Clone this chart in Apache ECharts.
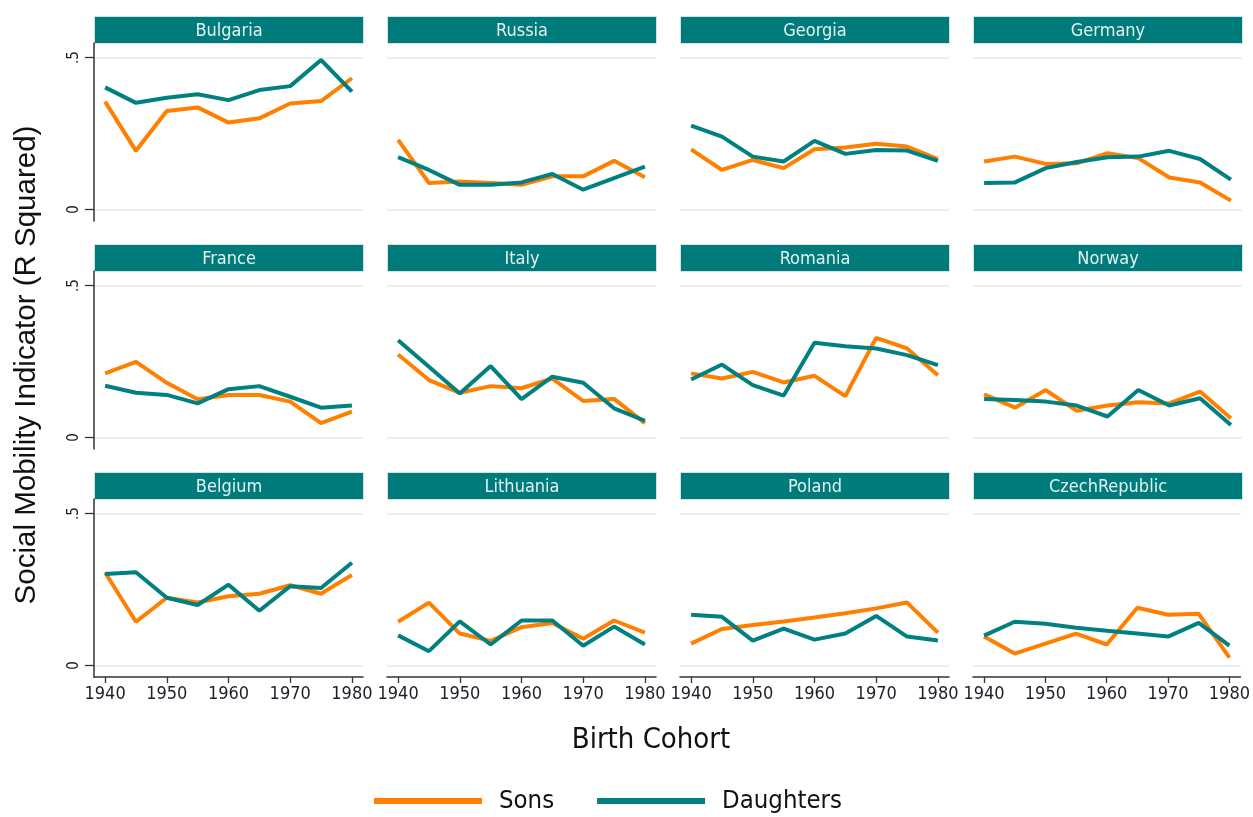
<!DOCTYPE html>
<html>
<head>
<meta charset="utf-8">
<script src="https://cdn.jsdelivr.net/npm/echarts@6/dist/echarts.min.js"></script>
<style>
html,body{margin:0;padding:0;background:#fff;}
#chart{width:1253px;height:817px;}
</style>
</head>
<body>
<div id="chart"></div>
<script>
// ---- data ----
const years = [1940, 1945, 1950, 1955, 1960, 1965, 1970, 1975, 1980];
const xTicks = [1940, 1950, 1960, 1970, 1980];
const yTicks = [0, 0.5];
const yTickLabels = ['0', '.5'];
const countries = ['Bulgaria', 'Russia', 'Georgia', 'Germany', 'France', 'Italy', 'Romania', 'Norway', 'Belgium', 'Lithuania', 'Poland', 'CzechRepublic'];

const bulgariaSons      = [0.355, 0.193, 0.324, 0.336, 0.286, 0.300, 0.349, 0.357, 0.432];
const bulgariaDaughters = [0.402, 0.351, 0.368, 0.379, 0.360, 0.393, 0.406, 0.492, 0.388];
const russiaSons        = [0.229, 0.087, 0.092, 0.087, 0.081, 0.109, 0.109, 0.160, 0.106];
const russiaDaughters   = [0.172, 0.130, 0.081, 0.081, 0.089, 0.117, 0.065, 0.103, 0.141];
const georgiaSons       = [0.198, 0.130, 0.163, 0.136, 0.198, 0.204, 0.216, 0.207, 0.166];
const georgiaDaughters  = [0.276, 0.240, 0.174, 0.158, 0.226, 0.183, 0.196, 0.194, 0.160];
const germanySons       = [0.158, 0.174, 0.150, 0.152, 0.185, 0.169, 0.105, 0.089, 0.029];
const germanyDaughters  = [0.087, 0.089, 0.136, 0.156, 0.172, 0.174, 0.193, 0.166, 0.098];
const franceSons        = [0.211, 0.249, 0.180, 0.126, 0.140, 0.140, 0.118, 0.047, 0.085];
const franceDaughters   = [0.170, 0.147, 0.140, 0.112, 0.159, 0.169, 0.134, 0.098, 0.105];
const italySons         = [0.273, 0.189, 0.147, 0.169, 0.162, 0.194, 0.120, 0.127, 0.047];
const italyDaughters    = [0.320, 0.233, 0.145, 0.235, 0.126, 0.200, 0.180, 0.096, 0.055];
const romaniaSons       = [0.211, 0.194, 0.216, 0.181, 0.203, 0.136, 0.328, 0.293, 0.205];
const romaniaDaughters  = [0.191, 0.240, 0.172, 0.138, 0.312, 0.300, 0.293, 0.271, 0.238];
const norwaySons        = [0.142, 0.098, 0.156, 0.088, 0.105, 0.116, 0.112, 0.151, 0.063];
const norwayDaughters   = [0.127, 0.123, 0.118, 0.105, 0.069, 0.156, 0.105, 0.129, 0.041];
const belgiumSons       = [0.306, 0.144, 0.223, 0.207, 0.228, 0.236, 0.264, 0.236, 0.298];
const belgiumDaughters  = [0.301, 0.307, 0.223, 0.199, 0.266, 0.180, 0.261, 0.255, 0.338];
const lithuaniaSons     = [0.144, 0.207, 0.105, 0.081, 0.126, 0.140, 0.088, 0.148, 0.108];
const lithuaniaDaughters= [0.099, 0.047, 0.145, 0.069, 0.148, 0.148, 0.065, 0.128, 0.069];
const polandSons        = [0.072, 0.120, 0.133, 0.145, 0.158, 0.172, 0.188, 0.207, 0.108];
const polandDaughters   = [0.167, 0.160, 0.082, 0.121, 0.085, 0.105, 0.163, 0.095, 0.082];
const czechSons         = [0.095, 0.039, 0.072, 0.105, 0.069, 0.190, 0.167, 0.170, 0.026];
const czechDaughters    = [0.098, 0.144, 0.137, 0.124, 0.114, 0.105, 0.095, 0.140, 0.065];

const sonsList = [bulgariaSons, russiaSons, georgiaSons, germanySons, franceSons, italySons, romaniaSons, norwaySons, belgiumSons, lithuaniaSons, polandSons, czechSons];
const daughtersList = [bulgariaDaughters, russiaDaughters, georgiaDaughters, germanyDaughters, franceDaughters, italyDaughters, romaniaDaughters, norwayDaughters, belgiumDaughters, lithuaniaDaughters, polandDaughters, czechDaughters];

// ---- layout ----
const ORANGE = '#ff7f00';
const TEAL = '#008080';
const STRIP = '#007b7b';
const NARROW = "'DejaVu Sans Condensed', 'Liberation Sans Narrow', sans-serif";
const colLefts = [94, 387, 680, 973];
const panelW = 269;
const stripTops = [16, 244, 472];
const stripH = 27;
const plotH = 178;

const grids = [], xAxes = [], yAxes = [], series = [], graphics = [];
countries.forEach((name, i) => {
  const r = Math.floor(i / 4), c = i % 4;
  const top = stripTops[r] + stripH;
  grids.push({left: colLefts[c], top: top, width: panelW, height: plotH, containLabel: false});
  const bottomRow = r === 2;
  xAxes.push({
    type: 'value', gridIndex: i, min: 1938.2, max: 1981.8,
    axisLine: {show: bottomRow, onZero: false, lineStyle: {color: '#333', width: 1.5}},
    axisTick: {show: bottomRow, customValues: xTicks, length: 6, lineStyle: {color: '#333', width: 1.3}},
    axisLabel: {show: bottomRow, customValues: xTicks, fontFamily: NARROW, fontSize: 18, color: '#1e1e2a', margin: 8,
      formatter: v => String(Math.round(v))},
    splitLine: {show: false}
  });
  const leftCol = c === 0;
  yAxes.push({
    type: 'value', gridIndex: i, min: -0.038, max: 0.548,
    axisLine: {show: leftCol, lineStyle: {color: '#333', width: 1.5}},
    axisTick: {show: leftCol, customValues: yTicks, length: 9, lineStyle: {color: '#333', width: 1.3}},
    axisLabel: {show: leftCol, customValues: yTicks, rotate: 90, fontFamily: NARROW, fontSize: 15, color: '#1e1e2a', margin: 12,
      formatter: v => yTickLabels[yTicks.indexOf(Math.round(v * 10) / 10)] ?? ''},
    splitLine: {show: true, lineStyle: {color: '#e8f1f2', width: 2}}
  });
  series.push({
    name: 'Sons', type: 'line', xAxisIndex: i, yAxisIndex: i, showSymbol: false, symbol: 'none',
    color: ORANGE, lineStyle: {color: ORANGE, width: 4}, z: 2,
    data: years.map((y, k) => [y, sonsList[i][k]])
  });
  series.push({
    name: 'Daughters', type: 'line', xAxisIndex: i, yAxisIndex: i, showSymbol: false, symbol: 'none',
    color: TEAL, lineStyle: {color: TEAL, width: 4}, z: 3,
    data: years.map((y, k) => [y, daughtersList[i][k]])
  });
  graphics.push({
    type: 'group', left: colLefts[c], top: stripTops[r],
    children: [
      {type: 'rect', shape: {x: 0, y: 0, width: panelW, height: stripH}, style: {fill: STRIP, stroke: '#cfe3e3', lineWidth: 1}},
      {type: 'text', x: panelW / 2, y: stripH / 2 + 1, style: {text: name, fill: '#e4f2f2', font: "18px " + NARROW, textAlign: 'center', textVerticalAlign: 'middle'}}
    ]
  });
});

graphics.push({
  type: 'text', x: 27, y: 365, rotation: Math.PI / 2,
  style: {text: 'Social Mobility Indicator (R Squared)', fill: '#111', font: "29.5px 'Liberation Sans', Arial, sans-serif", textAlign: 'center', textVerticalAlign: 'middle'}
});
graphics.push({
  type: 'text', x: 651, y: 740,
  style: {text: 'Birth Cohort', fill: '#111', font: "29px " + NARROW, textAlign: 'center', textVerticalAlign: 'middle'}
});

const chart = echarts.init(document.getElementById('chart'), null, {renderer: 'canvas'});
chart.setOption({
  animation: false,
  backgroundColor: '#fff',
  grid: grids, xAxis: xAxes, yAxis: yAxes, series: series,
  legend: {
    data: ['Sons', 'Daughters'], left: 369, top: 783, icon: 'rect', itemWidth: 108, itemHeight: 6, itemGap: 43,
    textStyle: {fontFamily: NARROW, fontSize: 25.5, color: '#111', padding: [0, 0, 0, 12]}
  },
  graphic: graphics
});
</script>
</body>
</html>
